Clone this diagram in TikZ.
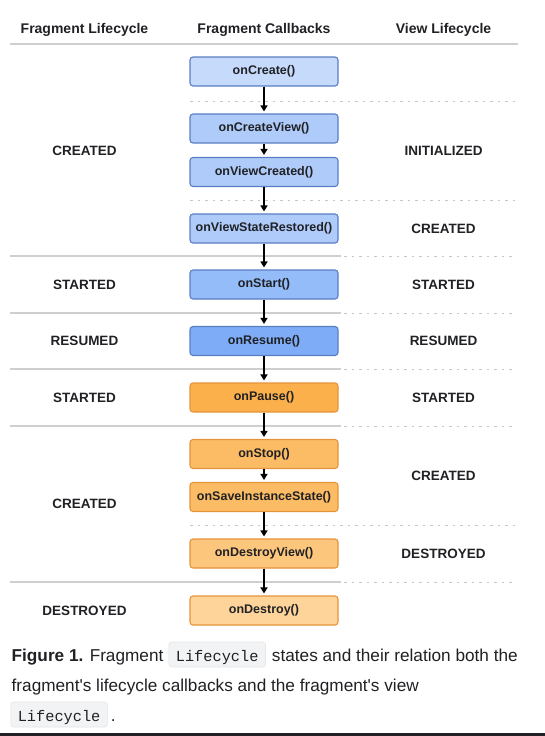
\documentclass[tikz,border=0pt]{standalone}
\usepackage{fontspec}
\setmainfont{Liberation Sans}
\setmonofont{Liberation Mono}
\newfontfamily\capfont{Liberation Sans}
\usetikzlibrary{arrows.meta}
\definecolor{txt}{HTML}{202124}
\definecolor{rule}{HTML}{CFCFCF}
\definecolor{dotc}{HTML}{C8C8C8}
\definecolor{bA}{HTML}{C6DAFC}
\definecolor{bB}{HTML}{AECBFA}
\definecolor{bC}{HTML}{93BCF9}
\definecolor{bD}{HTML}{7EACF7}
\definecolor{bdB}{HTML}{5B7EC2}
\definecolor{oA}{HTML}{FBB04C}
\definecolor{oB}{HTML}{FCBB65}
\definecolor{oC}{HTML}{FDC67D}
\definecolor{oD}{HTML}{FED49B}
\definecolor{bdO}{HTML}{E4943A}
\definecolor{chipbg}{HTML}{F1F3F4}
\definecolor{chipbd}{HTML}{E3E5E8}
\tikzset{
  cb/.style={draw, rounded corners=3pt, line width=1.1pt, minimum width=148pt,
    minimum height=29pt, inner sep=0pt, text=txt,
    font=\fontsize{12.5}{14}\selectfont\bfseries},
  bluebox/.style={cb, draw=bdB},
  orangebox/.style={cb, draw=bdO},
  hdr/.style={text=txt, font=\fontsize{14}{16}\selectfont\bfseries},
  lbl/.style={text=txt, font=\fontsize{13.5}{16}\selectfont\bfseries},
  solidrule/.style={draw=rule, line width=1.5pt},
  dotrule/.style={draw=dotc, line width=1pt, dash pattern=on 2.5pt off 5pt},
  flow/.style={draw=black, line width=1.3pt, -{Triangle[width=7pt,length=6pt]}, shorten >=2pt},
  captxt/.style={text=txt, inner sep=0pt, font=\capfont\fontsize{17.2}{20}\selectfont},
  chip/.style={fill=chipbg, draw=chipbd, line width=0.6pt, rounded corners=3pt,
    inner xsep=7pt, inner ysep=4pt, text height=15pt, text depth=2pt, text=txt,
    font=\fontsize{15.3}{18}\ttfamily}
}
\begin{document}
\begin{tikzpicture}[x=1pt,y=-1pt]
\useasboundingbox (0,0) rectangle (545,736);
\fill[white] (0,0) rectangle (545,736);

% headers
\node[hdr] (h1) at (84.5,30) {Fragment Lifecycle};
\node[hdr] (h2) at (264,30) {Fragment Callbacks};
\node[hdr] (h3) at (443.5,30) {View Lifecycle};
\draw[solidrule] (10,44) -- (518,44);

% dividers
\foreach \yy in {256,313,369,426,582} {
  \draw[solidrule] (10,\yy) -- (341,\yy);
  \draw[dotrule] (344,\yy) -- (516,\yy);
}
\foreach \yy in {101,200,525} {
  \draw[dotrule] (190,\yy) -- (516,\yy);
}

% callback boxes
\node[bluebox, fill=bA] (c1) at (264,71.5) {onCreate()};
\node[bluebox, fill=bB] (c2) at (264,128.5) {onCreateView()};
\node[bluebox, fill=bB] (c3) at (264,172) {onViewCreated()};
\node[bluebox, fill=bB] (c4) at (264,228.5) {onViewStateRestored()};
\node[bluebox, fill=bC] (c5) at (264,284.5) {onStart()};
\node[bluebox, fill=bD] (c6) at (264,341) {onResume()};
\node[orangebox, fill=oA] (c7) at (264,397.5) {onPause()};
\node[orangebox, fill=oB] (c8) at (264,454) {onStop()};
\node[orangebox, fill=oB] (c9) at (264,497) {onSaveInstanceState()};
\node[orangebox, fill=oC] (c10) at (264,553.5) {onDestroyView()};
\node[orangebox, fill=oD] (c11) at (264,610.5) {onDestroy()};

\foreach \a/\b in {c1/c2,c2/c3,c3/c4,c4/c5,c5/c6,c6/c7,c7/c8,c8/c9,c9/c10,c10/c11} {
  \draw[flow] (\a) -- (\b);
}

% fragment lifecycle labels
\node[lbl] (f1) at (84.5,151) {CREATED};
\node[lbl] (f2) at (84.5,284.5) {STARTED};
\node[lbl] (f3) at (84.5,341) {RESUMED};
\node[lbl] (f4) at (84.5,397.5) {STARTED};
\node[lbl] (f5) at (84.5,504) {CREATED};
\node[lbl] (f6) at (84.5,610.5) {DESTROYED};

% view lifecycle labels
\node[lbl] (v1) at (443.5,151) {INITIALIZED};
\node[lbl] (v2) at (443.5,228.5) {CREATED};
\node[lbl] (v3) at (443.5,284.5) {STARTED};
\node[lbl] (v4) at (443.5,341) {RESUMED};
\node[lbl] (v5) at (443.5,397.5) {STARTED};
\node[lbl] (v6) at (443.5,475.5) {CREATED};
\node[lbl] (v7) at (443.5,553.5) {DESTROYED};

% caption
\node[captxt, anchor=base west] (t1) at (11.5,661) {\textbf{Figure 1.} Fragment};
\node[chip, anchor=base west] (k1) at ([xshift=5pt]t1.base east) {Lifecycle};
\node[captxt, anchor=base west] (t2) at ([xshift=6pt]t1.base east -| k1.east) {states and their relation both the};
\node[captxt, anchor=base west] (t3) at (11.5,691) {fragment's lifecycle callbacks and the fragment's view};
\node[chip, anchor=base west] (k2) at (10.5,721) {Lifecycle};
\node[captxt, anchor=base west] (t4) at ([xshift=3pt]k2.east |- k2.base) {.};

\fill[txt] (0,733) rectangle (545,736);
\end{tikzpicture}
\end{document}
